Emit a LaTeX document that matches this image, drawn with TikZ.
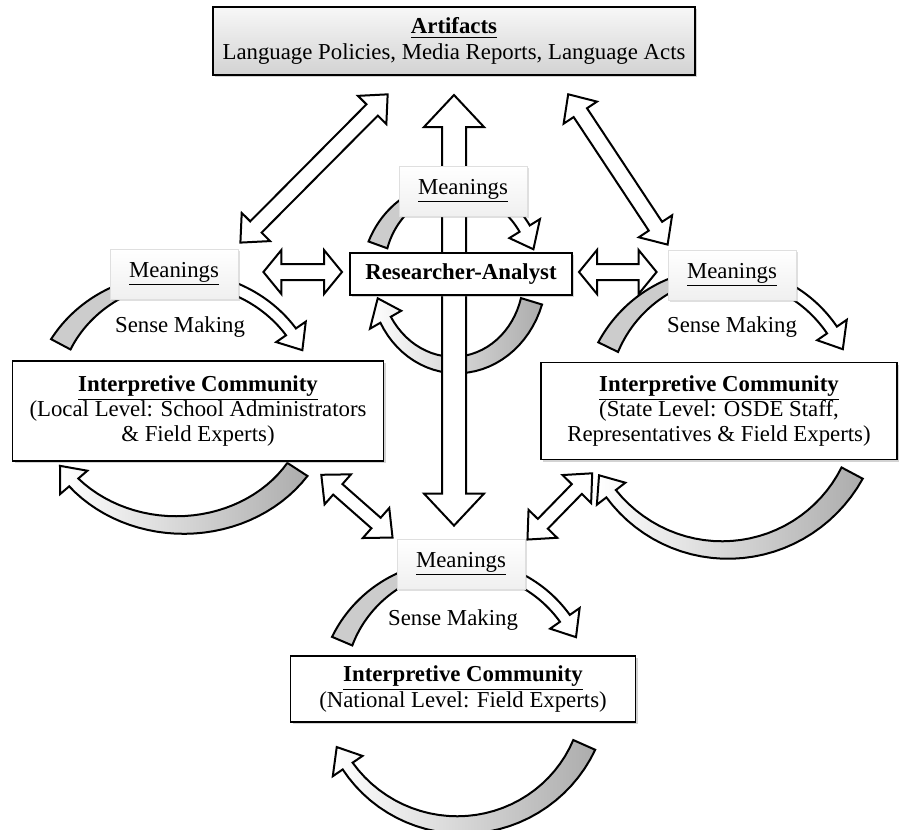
\documentclass[tikz,border=0pt]{standalone}
\usepackage{fontspec}
\setmainfont{Liberation Serif}
\usetikzlibrary{calc, shadows}
\pgfdeclarelayer{back}
\pgfsetlayers{back,main}

% curved block arrow on an ellipse: [style]{rx}{ry}{start}{tip}{half width start}{half width end}
\newcommand{\ringarrow}[7][]{%
  \pgfmathsetmacro\rspan{44/(#2+#3)*57.3}%
  \pgfmathsetmacro\rbase{#5-(#5-#4)/abs(#5-#4)*\rspan}%
  \draw[ring, #1] plot[domain=#4:\rbase, samples=30]
      ({(#2+#6+(#7-#6)*(\x-#4)/(\rbase-#4))*cos(\x)}, {(#3+#6+(#7-#6)*(\x-#4)/(\rbase-#4))*sin(\x)})
    -- ({(#2+18)*cos(\rbase)}, {(#3+18)*sin(\rbase)})
    -- ({#2*cos(#5)}, {#3*sin(#5)})
    -- ({(#2-18)*cos(\rbase)}, {(#3-18)*sin(\rbase)})
    -- plot[domain=\rbase:#4, samples=30]
      ({(#2-#6-(#7-#6)*(\x-#4)/(\rbase-#4))*cos(\x)}, {(#3-#6-(#7-#6)*(\x-#4)/(\rbase-#4))*sin(\x)})
    -- cycle;}
% curved band without head
\newcommand{\ringband}[7][]{%
  \draw[ring, #1] plot[domain=#4:#5, samples=30]
      ({(#2+#6+(#7-#6)*(\x-#4)/(#5-#4))*cos(\x)}, {(#3+#6+(#7-#6)*(\x-#4)/(#5-#4))*sin(\x)})
    -- plot[domain=#5:#4, samples=30]
      ({(#2-#6-(#7-#6)*(\x-#4)/(#5-#4))*cos(\x)}, {(#3-#6-(#7-#6)*(\x-#4)/(#5-#4))*sin(\x)})
    -- cycle;}

\begin{document}
\begin{tikzpicture}[x=0.5pt, y=-0.5pt, font=\fontsize{11.4}{12.6}\selectfont,
        box/.style={draw=black, line width=0.8pt, fill=white, align=center, inner sep=2pt,
                    drop shadow={opacity=0.35, shadow xshift=1.2pt, shadow yshift=-1.2pt}},
        mbox/.style={draw=gray!25, top color=white, bottom color=gray!12, minimum width=64pt,
                     minimum height=25pt, drop shadow={opacity=0.25, shadow xshift=1pt, shadow yshift=-1pt}},
        ring/.style={draw=black, line width=1pt},
        band/.style={fill=gray!40},
        ringw/.style={fill=white},
        ringsh/.style={left color=white, middle color=white, right color=gray!65},
        dblk/.style n args={3}{draw=black, line width=1pt, fill=white,
            to path={let \p1=(\tikztostart), \p2=(\tikztotarget),
                \n1={atan2(\y2-\y1,\x2-\x1)}, \n2={veclen(\x2-\x1,\y2-\y1)} in
                {[shift={(\p1)}, rotate=\n1]
                 (0,0) -- (#3,#2) -- (#3,#1) -- (\n2-#3,#1) -- (\n2-#3,#2) -- (\n2,0)
                 -- (\n2-#3,-#2) -- (\n2-#3,-#1) -- (#3,-#1) -- (#3,-#2) -- cycle}}}
    ]
    \useasboundingbox (0,0) rectangle (901,830);

    \node[box, line width=1pt, top color=gray!6, bottom color=gray!35,
          minimum width=241pt, minimum height=34pt] (art) at (454,41)
        {\underline{\textbf{Artifacts}}\\Language Policies, Media Reports, Language Acts};
    \node[box, font=\fontsize{11.4}{12.6}\selectfont\bfseries, line width=1pt,
          minimum width=111pt, minimum height=21pt] (res) at (461,274) {Researcher-Analyst};
    \node[box, minimum width=185.5pt, minimum height=50pt] (loc) at (198,411)
        {\underline{\textbf{Interpretive Community}}\\(Local Level: School Administrators\\\& Field Experts)};
    \node[box, minimum width=178pt, minimum height=48.5pt] (st) at (719,411)
        {\underline{\textbf{Interpretive Community}}\\(State Level: OSDE Staff,\\Representatives \& Field Experts)};
    \node[box, minimum width=172.5pt, minimum height=33pt] (nat) at (463,689)
        {\underline{\textbf{Interpretive Community}}\\(National Level: Field Experts)};

    \node[mbox] (mtop) at (463,191) {\underline{Meanings}};
    \node[mbox] (mloc) at (174,274) {\underline{Meanings}};
    \node[mbox] (mst)  at (732,275) {\underline{Meanings}};
    \node[mbox] (mnat) at (461,564) {\underline{Meanings}};

    \node (sloc) at (180,327) {Sense Making};
    \node (sst)  at (732,327) {Sense Making};
    \node (snat) at (453,620) {Sense Making};

    \coordinate (cloc) at (180,403);
    \coordinate (cst)  at (725,405);
    \coordinate (cnat) at (460,690);
    \coordinate (cres) at (455,275);

    \begin{pgfonlayer}{back}
        % sense making cycles
        \begin{scope}[shift={(cloc)}]
            \ringband[band]{135}{125}{208}{250}{11}{6}
            \ringarrow[ringw]{135}{125}{290}{335}{6}{6}
            \ringarrow[ringsh]{140}{122}{33}{149}{12}{6}
        \end{scope}
        \begin{scope}[shift={(cst)}]
            \ringband[band]{130}{132}{206}{250}{11}{6}
            \ringarrow[ringw]{130}{132}{290}{335}{6}{6}
            \ringarrow[ringsh]{144}{145}{28}{151}{12}{6}
        \end{scope}
        \begin{scope}[shift={(cnat)}]
            \ringband[band]{128}{125}{203}{250}{11}{6}
            \ringarrow[ringw]{128}{125}{290}{335}{6}{6}
            \ringarrow[ringsh]{136}{135}{24}{155}{12}{6}
        \end{scope}
        \begin{scope}[shift={(cres)}]
            \ringband[band]{82}{88}{200}{248}{10}{6}
            \ringarrow[ringw]{82}{88}{295}{343}{6}{6}
            \ringarrow[ringsh]{80}{90}{17}{165}{11}{6}
        \end{scope}

        % two-way block arrows
        \draw[dblk={4pt}{10pt}{11pt}] ($(mloc.north east)+(2,-6)$) to ($(art.south)+(-66,18)$);
        \draw[dblk={4pt}{10pt}{11pt}] ($(mst.north west)+(0,-5)$) to ($(art.south)+(114,18)$);
        \draw[dblk={6pt}{15pt}{16pt}] ($(art.south)+(0,19)$) to ($(art.south |- mnat.north)+(0,-13)$);
        \draw[dblk={4pt}{11pt}{9pt}] ($(mloc.east)+(25,-2)$) to ($(res.west)+(-7,-2)$);
        \draw[dblk={4pt}{11pt}{9pt}] ($(res.east)+(6,-2)$) to ($(mst.west)+(-11,-3)$);
        \draw[dblk={3.5pt}{10pt}{11pt}] ($(loc.south east)+(-63,13)$) to ($(mnat.north west)+(-4,-1)$);
        \draw[dblk={3.5pt}{10pt}{11pt}] ($(st.south west)+(52,13)$) to ($(mnat.north east)+(2,1)$);
    \end{pgfonlayer}
\end{tikzpicture}
\end{document}
